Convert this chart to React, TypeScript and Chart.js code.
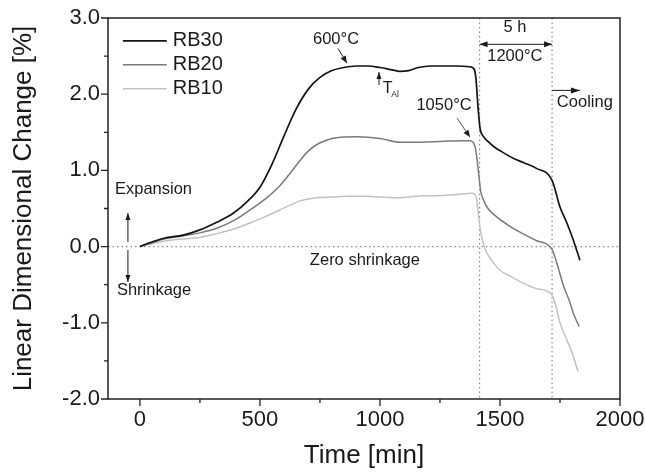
import React, { useEffect, useRef } from "react";
import { Chart, registerables } from "chart.js";

Chart.register(...registerables);

// ---- data (time in min, linear dimensional change in %) ----
const rb30Time = [0, 40, 100, 180, 250, 320, 390, 450, 500, 550, 600, 650, 700, 750, 800, 850, 900, 950, 1000, 1050, 1083, 1120, 1160, 1210, 1260, 1320, 1375, 1392, 1400, 1408, 1417, 1430, 1450, 1475, 1510, 1555, 1600, 1650, 1717, 1750, 1780, 1805, 1833];
const rb30Change = [0, 0.05, 0.11, 0.15, 0.22, 0.32, 0.44, 0.6, 0.78, 1.08, 1.45, 1.8, 2.06, 2.22, 2.31, 2.35, 2.37, 2.37, 2.35, 2.32, 2.3, 2.31, 2.35, 2.37, 2.37, 2.37, 2.36, 2.33, 2.2, 1.85, 1.55, 1.45, 1.38, 1.31, 1.24, 1.16, 1.1, 1.03, 0.87, 0.52, 0.3, 0.09, -0.18];

const rb20Time = [0, 40, 100, 180, 250, 320, 390, 458, 520, 583, 630, 667, 700, 737, 780, 820, 900, 1000, 1083, 1150, 1250, 1340, 1375, 1390, 1400, 1408, 1413, 1420, 1430, 1450, 1486, 1530, 1583, 1650, 1717, 1740, 1763, 1790, 1805, 1830];
const rb20Change = [0, 0.04, 0.1, 0.14, 0.18, 0.24, 0.34, 0.48, 0.62, 0.8, 0.98, 1.13, 1.25, 1.34, 1.4, 1.43, 1.44, 1.42, 1.37, 1.37, 1.38, 1.39, 1.39, 1.36, 1.25, 1.05, 0.9, 0.72, 0.62, 0.5, 0.39, 0.29, 0.19, 0.08, -0.04, -0.25, -0.5, -0.72, -0.87, -1.05];

const rb10Time = [0, 40, 100, 180, 250, 320, 390, 458, 520, 583, 630, 667, 737, 800, 875, 950, 1000, 1083, 1150, 1250, 1340, 1380, 1395, 1403, 1410, 1418, 1430, 1445, 1470, 1500, 1550, 1596, 1650, 1713, 1730, 1750, 1775, 1800, 1825];
const rb10Change = [0, 0.03, 0.07, 0.1, 0.12, 0.17, 0.23, 0.31, 0.39, 0.48, 0.55, 0.6, 0.64, 0.65, 0.66, 0.66, 0.65, 0.64, 0.66, 0.67, 0.69, 0.7, 0.69, 0.62, 0.42, 0.22, 0.05, -0.08, -0.2, -0.31, -0.4, -0.48, -0.55, -0.62, -0.75, -1.0, -1.2, -1.39, -1.64];

const seriesNames = ["RB30", "RB20", "RB10"];
const seriesColors = ["#141414", "#7a7a7a", "#c2c2c2"];
const seriesWidths = [1.7, 1.5, 1.5];

const xTicks = [0, 500, 1000, 1500, 2000];
const xMinorTicks = [250, 750, 1250, 1750];
const yTicks = [-2, -1, 0, 1, 2, 3];
const yMinorTicks = [-1.5, -0.5, 0.5, 1.5, 2.5];
const xMin = -133;
const xMax = 2000;
const yMin = -2;
const yMax = 3;
const holdStart = 1415;
const holdEnd = 1717;

const FONT = "'Liberation Sans', Arial, Helvetica, sans-serif";
const INK = "#1a1a1a";

function arrow(ctx: CanvasRenderingContext2D, x1: number, y1: number, x2: number, y2: number, head = 7, half = 3, both = false) {
  ctx.beginPath();
  ctx.moveTo(x1, y1);
  ctx.lineTo(x2, y2);
  ctx.stroke();
  const drawHead = (ax: number, ay: number, bx: number, by: number) => {
    const ang = Math.atan2(by - ay, bx - ax);
    ctx.beginPath();
    ctx.moveTo(bx, by);
    ctx.lineTo(bx - head * Math.cos(ang) + half * Math.sin(ang), by - head * Math.sin(ang) - half * Math.cos(ang));
    ctx.lineTo(bx - head * Math.cos(ang) - half * Math.sin(ang), by - head * Math.sin(ang) + half * Math.cos(ang));
    ctx.closePath();
    ctx.fill();
  };
  drawHead(x1, y1, x2, y2);
  if (both) drawHead(x2, y2, x1, y1);
}

const decorPlugin = {
  id: "decor",
  beforeDatasetsDraw(chart: any) {
    const { ctx, chartArea: a, scales } = chart;
    const xs = scales.x;
    const ys = scales.y;
    ctx.save();
    ctx.strokeStyle = "#8a8a8a";
    ctx.lineWidth = 1.2;
    ctx.setLineDash([1.5, 3]);
    const y0 = ys.getPixelForValue(0);
    ctx.beginPath();
    ctx.moveTo(a.left, y0);
    ctx.lineTo(a.right, y0);
    for (const t of [holdStart, holdEnd]) {
      const px = xs.getPixelForValue(t);
      ctx.moveTo(px, a.top);
      ctx.lineTo(px, a.bottom);
    }
    ctx.stroke();
    ctx.restore();
  },
  afterDraw(chart: any) {
    const { ctx, chartArea: a, scales } = chart;
    const xs = scales.x;
    const ys = scales.y;
    const X = (v: number) => xs.getPixelForValue(v);
    const Y = (v: number) => ys.getPixelForValue(v);
    ctx.save();
    // frame
    ctx.strokeStyle = "#222";
    ctx.lineWidth = 1.5;
    ctx.strokeRect(a.left, a.top, a.right - a.left, a.bottom - a.top);
    // ticks (outward)
    ctx.lineWidth = 1.3;
    ctx.beginPath();
    for (const v of xTicks) { const p = X(v); ctx.moveTo(p, a.bottom); ctx.lineTo(p, a.bottom + 7); }
    for (const v of xMinorTicks) { const p = X(v); ctx.moveTo(p, a.bottom); ctx.lineTo(p, a.bottom + 4); }
    for (const v of yTicks) { const p = Y(v); ctx.moveTo(a.left, p); ctx.lineTo(a.left - 7, p); }
    for (const v of yMinorTicks) { const p = Y(v); ctx.moveTo(a.left, p); ctx.lineTo(a.left - 4, p); }
    ctx.stroke();

    // legend
    const legendY = [2.7, 2.385, 2.07];
    ctx.font = `20px ${FONT}`;
    ctx.textBaseline = "middle";
    ctx.textAlign = "left";
    seriesNames.forEach((name, i) => {
      const py = Y(legendY[i]);
      ctx.strokeStyle = seriesColors[i];
      ctx.lineWidth = seriesWidths[i];
      ctx.beginPath();
      ctx.moveTo(X(-71), py);
      ctx.lineTo(X(112), py);
      ctx.stroke();
      ctx.fillStyle = INK;
      ctx.fillText(name, X(137), py);
    });

    // annotations
    ctx.fillStyle = INK;
    ctx.strokeStyle = INK;
    ctx.lineWidth = 1;
    ctx.font = `16.5px ${FONT}`;
    ctx.textAlign = "center";
    ctx.fillText("600°C", X(817), Y(2.72));
    arrow(ctx, X(825), Y(2.6), X(862), Y(2.41), 7, 3);

    // T_Al
    arrow(ctx, X(996), Y(2.12), X(996), Y(2.29), 7, 2.5);
    ctx.textAlign = "left";
    ctx.font = `16px ${FONT}`;
    ctx.fillText("T", X(1012), Y(2.08));
    ctx.font = `8.5px ${FONT}`;
    ctx.fillText("Al", X(1047), Y(2.0));

    ctx.font = `16.5px ${FONT}`;
    ctx.textAlign = "center";
    ctx.fillText("1050°C", X(1267), Y(1.855));
    ctx.strokeStyle = "#555";
    arrow(ctx, X(1321), Y(1.686), X(1375), Y(1.437), 7, 3);
    ctx.strokeStyle = INK;

    ctx.fillText("5 h", X(1562), Y(2.878));
    arrow(ctx, X(holdStart), Y(2.655), X(holdEnd), Y(2.655), 8, 3, true);
    ctx.fillText("1200°C", X(1562), Y(2.497));

    arrow(ctx, X(holdEnd), Y(2.05), X(1833), Y(2.05), 9, 3);
    ctx.textAlign = "left";
    ctx.fillText("Cooling", X(1737), Y(1.894));

    ctx.fillText("Expansion", X(-104), Y(0.755));
    arrow(ctx, X(-50), Y(0.06), X(-50), Y(0.44), 7, 2.5);
    arrow(ctx, X(-50), Y(-0.045), X(-50), Y(-0.464), 7, 2.5);
    ctx.fillText("Shrinkage", X(-96), Y(-0.569));
    ctx.fillText("Zero shrinkage", X(708), Y(-0.176));
    ctx.restore();
  },
};

export default function App() {
  const ref = useRef<HTMLCanvasElement | null>(null);
  useEffect(() => {
    if (!ref.current) return;
    const mk = (t: number[], v: number[]) => t.map((x, i) => ({ x, y: v[i] }));
    const chart = new Chart(ref.current, {
      type: "line",
      data: {
        datasets: [
          { label: seriesNames[0], data: mk(rb30Time, rb30Change), borderColor: seriesColors[0], borderWidth: seriesWidths[0], pointRadius: 0, cubicInterpolationMode: "monotone" },
          { label: seriesNames[1], data: mk(rb20Time, rb20Change), borderColor: seriesColors[1], borderWidth: seriesWidths[1], pointRadius: 0, cubicInterpolationMode: "monotone" },
          { label: seriesNames[2], data: mk(rb10Time, rb10Change), borderColor: seriesColors[2], borderWidth: seriesWidths[2], pointRadius: 0, cubicInterpolationMode: "monotone" },
        ],
      },
      options: {
        responsive: false,
        animation: false,
        devicePixelRatio: 1,
        layout: { padding: { top: 18, right: 25, bottom: 0, left: 0 } },
        plugins: { legend: { display: false }, tooltip: { enabled: false } },
        scales: {
          x: {
            type: "linear",
            min: xMin,
            max: xMax,
            grid: { display: false, drawTicks: false },
            border: { display: false },
            afterBuildTicks: (s: any) => { s.ticks = xTicks.map((value) => ({ value })); },
            afterFit: (s: any) => { s.height = 76; s.paddingLeft = 0; s.paddingRight = 0; },
            ticks: { color: INK, font: { family: FONT, size: 22 }, padding: 8, maxRotation: 0, autoSkip: false, callback: (v: any) => String(v) },
            title: { display: true, text: "Time [min]", color: INK, font: { family: FONT, size: 26 }, padding: { top: 0, bottom: 4 } },
          },
          y: {
            type: "linear",
            min: yMin,
            max: yMax,
            grid: { display: false, drawTicks: false },
            border: { display: false },
            afterBuildTicks: (s: any) => { s.ticks = yTicks.map((value) => ({ value })); },
            afterFit: (s: any) => { s.width = 108; s.paddingTop = 0; s.paddingBottom = 0; },
            ticks: { color: INK, font: { family: FONT, size: 22 }, padding: 8, autoSkip: false, callback: (v: any) => Number(v).toFixed(1) },
            title: { display: true, text: "Linear Dimensional Change [%]", color: INK, font: { family: FONT, size: 26 }, padding: { top: 8, bottom: 0 } },
          },
        },
      },
      plugins: [decorPlugin],
    } as any);
    return () => chart.destroy();
  }, []);
  return (
    <div style={{ position: "absolute", left: 0, top: 0, width: 645, height: 475, background: "#fff" }}>
      <canvas ref={ref} width={645} height={475} style={{ width: 645, height: 475, display: "block" }} />
    </div>
  );
}
